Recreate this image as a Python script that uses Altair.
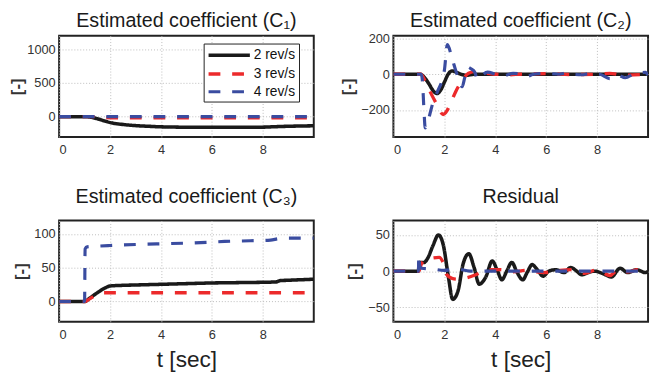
import altair as alt
import pandas as pd

SERIES = ["2 rev/s", "3 rev/s", "4 rev/s"]
COLORS = ["#1a1a1a", "#ec2a2b", "#3a4ca0"]
DASHES = [[1, 0], [12, 12], [12, 12]]
WIDTHS = [3.6, 3.2, 3.2]

# ---- Estimated coefficient C1 ----
c1_t_2 = [0, 1.0, 1.2, 1.5, 1.8, 2.1, 2.5, 3.0, 3.5, 4.0, 5.0, 6.0, 7.0, 8.0, 8.5, 9.0, 10.0]
c1_v_2 = [0, 0, -5, -30, -65, -95, -115, -132, -142, -150, -156, -158, -158, -155, -148, -142, -135]
c1_t_3 = [0, 1.4, 1.8, 2.5, 10.0]
c1_v_3 = [0, 0, -12, -18, -18]
c1_t_4 = [0, 10.0]
c1_v_4 = [0, 0]

# ---- Estimated coefficient C2 ----
c2_t_2 = [0, 1.05, 1.2, 1.4, 1.55, 1.71, 1.85, 2.0, 2.15, 2.3, 2.45, 2.65, 2.85, 3.2, 4, 5, 6, 7, 8, 9, 10]
c2_v_2 = [0, 0, -15, -55, -90, -108, -90, -45, 0, 18, 12, 0, -6, 0, 0, 0, 0, 0, 0, 0, 0]
c2_t_3 = [0, 1.08, 1.25, 1.45, 1.74, 1.95, 2.1, 2.25, 2.45, 2.7, 2.95, 3.2, 3.5, 4.0, 4.5, 5.0, 6.0, 7.0, 8.0, 8.5, 9.0, 10.0]
c2_v_3 = [0, 0, -40, -100, -177, -225, -205, -160, -96, -35, 5, 14, 8, 0, -3, 0, 3, -2, 0, 5, -5, 0]
c2_t_4 = [0, 1.1, 1.15, 1.2, 1.25, 1.35, 1.55, 1.75, 1.9, 2.0, 2.12, 2.3, 2.45, 2.6, 2.7, 2.8, 2.92,
          3.05, 3.2, 3.3, 3.45, 3.7, 4.0, 4.3, 4.7, 5.0, 5.25, 5.5, 6.0, 6.5, 6.86, 7.05, 7.4, 7.7,
          8.1, 8.5, 8.8, 9.1, 9.5, 9.9, 10.0]
c2_v_4 = [0, 0, -60, -200, -300, -265, -160, -90, -40, 20, 165, 90, 20, -40, -70, -20, 40,
          30, 10, -30, -10, 12, 0, -10, 5, 0, -12, 0, 5, 0, 8, 0, -3, 3,
          0, -25, -5, -20, 5, 10, -5]

# ---- Estimated coefficient C3 ----
c3_t_2 = [0, 1.0, 1.2, 1.5, 1.8, 2.0, 2.5, 3, 4, 5, 6, 7, 8, 8.5, 8.7, 9, 10]
c3_v_2 = [0, 0, 5, 13, 20, 23, 24, 24.5, 25.5, 26.5, 27.5, 28, 28.5, 29, 31, 31.5, 33]
c3_t_3 = [0, 1.0, 1.2, 1.45, 1.7, 10.0]
c3_v_3 = [0, 0, 4, 10, 13, 13]
c3_t_4 = [0, 1.0, 1.02, 1.1, 1.5, 2, 3, 4, 5, 6, 6.5, 7.5, 8.3, 8.6, 9, 10]
c3_v_4 = [0, 0, 78, 81, 82, 83, 84.5, 85.5, 86.5, 88, 89, 90, 91, 93, 94, 94]

# ---- Residual ----
r_t_2 = [0, 0.98, 1.02, 1.2, 1.35, 1.55, 1.77, 1.96, 2.16, 2.33, 2.54, 2.73, 2.96, 3.17, 3.37, 3.63,
         3.88, 4.07, 4.26, 4.45, 4.65, 4.86, 5.08, 5.25, 5.45, 5.65, 5.88, 6.1, 6.38, 6.7, 6.96,
         7.2, 7.4, 7.65, 7.9, 8.2, 8.56, 8.9, 9.2, 9.55, 9.9, 10.0]
r_v_2 = [0, 0, 12, 12, 18, 35, 50, 36, -8, -39, -27, 9, 24, 5, -18, -8,
         14, 2, -12, 0, 12, -2, -12, -2, 9, 2, -7, 0, 2, -2, 5,
         0, -5, -2, 0, -3, -8, 4, -2, 2, -2, 0]
r_t_3 = [0, 1.0, 1.1, 1.3, 1.5, 1.8, 1.95, 2.1, 2.3, 2.5, 2.9, 3.3, 3.7, 4.2, 4.7, 5.2, 5.9,
         6.5, 7.0, 7.5, 8.0, 8.5, 8.8, 9.2, 9.6, 10.0]
r_v_3 = [0, 0, 10, 16, 18, 19, 12, -5, -10, -11, -9, -4, 2, 2, -1, 1, -2,
         1, 2, -3, 2, -6, 1, -1, 2, -2]
r_t_4 = [0, 0.98, 1.0, 1.03, 1.1, 1.5, 2.0, 2.5, 3.0, 4, 5, 6, 7, 8, 9, 10]
r_v_4 = [0, 0, 22, 8, 4, 3, 1, 3, 0, 0, 0, 0, 0, 0, 0, 0]

X_TICKS = [0, 2, 4, 6, 8]
FONT = "Liberation Sans"


def frame(ts, vs):
    rows = []
    for name, t, v in zip(SERIES, ts, vs):
        for a, b in zip(t, v):
            rows.append({"t": a, "v": b, "s": name})
    return pd.DataFrame(rows)


LEG = alt.Legend(orient="none", legendX=147, legendY=8, title=None,
                 symbolType="M-1,0L5,0", symbolSize=196, symbolStrokeWidth=3.5,
                 labelFontSize=14, labelFont=FONT, labelColor="#111",
                 fillColor="white", strokeColor="#222", padding=3,
                 labelOffset=30, rowPadding=2)


def panel(df, title, toff, ydom, yvals, ytp, xtitle):
    return alt.Chart(df, title=alt.TitleParams(title, offset=toff)).mark_line(
        clip=True, interpolate="monotone"
    ).encode(
        x=alt.X("t:Q", scale=alt.Scale(domain=[0, 10], nice=False, zero=False),
                axis=alt.Axis(values=X_TICKS, title=xtitle, labelPadding=7,
                              titleFontSize=23, titleFontWeight="normal",
                              titleColor="#222", titlePadding=8)),
        y=alt.Y("v:Q", scale=alt.Scale(domain=ydom, nice=False, zero=False),
                axis=alt.Axis(values=yvals, format="d", title="[-]", titleFontSize=17,
                              titleFontWeight="bold", titleColor="#333",
                              titlePadding=ytp, labelPadding=4)),
        color=alt.Color("s:N", scale=alt.Scale(domain=SERIES, range=COLORS), legend=LEG),
        strokeDash=alt.StrokeDash("s:N", scale=alt.Scale(domain=SERIES, range=DASHES), legend=LEG),
        strokeWidth=alt.StrokeWidth("s:N", scale=alt.Scale(domain=SERIES, range=WIDTHS), legend=None),
    ).properties(width=259, height=103)


p1 = panel(frame([c1_t_2, c1_t_3, c1_t_4], [c1_v_2, c1_v_3, c1_v_4]),
           "Estimated coefficient (C\u2081)", 5, [-300, 1200], [0, 500, 1000], 0, "")
p2 = panel(frame([c2_t_2, c2_t_3, c2_t_4], [c2_v_2, c2_v_3, c2_v_4]),
           "Estimated coefficient (C\u2082)", 1.2, [-350, 215], [-200, 0, 200], 3, "")
p3 = panel(frame([c3_t_2, c3_t_3, c3_t_4], [c3_v_2, c3_v_3, c3_v_4]),
           "Estimated coefficient (C\u2083)", 14, [-30, 120], [0, 50, 100], 3, "t [sec]")
p4 = panel(frame([r_t_2, r_t_3, r_t_4], [r_v_2, r_v_3, r_v_4]),
           "Residual", 14, [-70, 70], [-50, 0, 50], 4, "t [sec]")

chart = alt.concat(p1, p2, p3, p4, columns=2, bounds="flush",
                   spacing=alt.RowColnumber(row=85, column=81)).properties(
    padding={"left": 0, "top": -1, "right": 2, "bottom": 0}
).configure_view(stroke="#222", strokeWidth=2).configure_axis(
    domain=False, ticks=False, grid=True, gridColor="#bdbdbd", gridDash=[1, 2],
    labelFont=FONT, labelFontSize=13, labelColor="#333", titleFont=FONT
).configure_title(
    font=FONT, fontSize=20, fontWeight="normal", color="#1a1a1a", anchor="middle"
)

chart.save("out.html", embed_options={"renderer": "svg", "actions": False})
